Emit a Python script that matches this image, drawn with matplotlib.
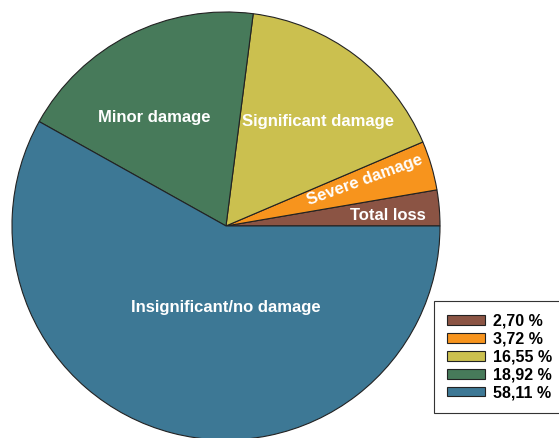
import matplotlib.pyplot as plt
from matplotlib.patches import Patch

categories = ['Total loss', 'Severe damage', 'Significant damage', 'Minor damage',
              'Insignificant/no damage']
shares = [2.70, 3.72, 16.55, 18.92, 58.11]
colors = ['#8b5444', '#f7941d', '#cbc04f', '#477a5a', '#3d7895']

# label placement (data coords, pie radius = 1) and rotation
label_pos = [(0.757, 0.051), (0.650, 0.215), (0.43, 0.486), (-0.336, 0.509), (0.0, -0.379)]
label_rot = [0, 20, 0, 0, 0]

plt.rcParams['font.family'] = ['Liberation Sans', 'DejaVu Sans']


def main():
    fig = plt.figure(figsize=(5.59, 4.38), dpi=100)
    ax = fig.add_axes([0, 0, 1, 1])

    ax.pie(shares, colors=colors, startangle=0, counterclock=True, radius=1,
           wedgeprops=dict(edgecolor='#222222', linewidth=0.8))

    for name, (x, y), rot in zip(categories, label_pos, label_rot):
        ax.text(x, y, name, ha='center', va='center', rotation=rot,
                color='white', fontsize=12, fontweight='bold')

    ax.set_xlim(-1.056, 1.556)
    ax.set_ylim(-0.991, 1.056)
    ax.set_aspect('auto')
    ax.axis('off')

    handles = [Patch(facecolor=c, edgecolor='#222222', linewidth=0.8) for c in colors]
    labels = ['{:.2f} %'.format(s).replace('.', ',') for s in shares]
    leg = ax.legend(handles, labels, loc='upper left',
                    bbox_to_anchor=(434 / 559, 1 - 301 / 438),
                    bbox_transform=fig.transFigure,
                    prop=dict(size=11.5, weight='bold'),
                    frameon=True, fancybox=False, framealpha=1,
                    handlelength=2.4, handleheight=0.55, labelspacing=0.18,
                    borderpad=0.8, handletextpad=0.5, borderaxespad=0)
    leg.get_frame().set_edgecolor('#333333')
    leg.get_frame().set_linewidth(0.8)

    fig.savefig('out.png', dpi=100)
    return


if __name__ == '__main__':
    main()
